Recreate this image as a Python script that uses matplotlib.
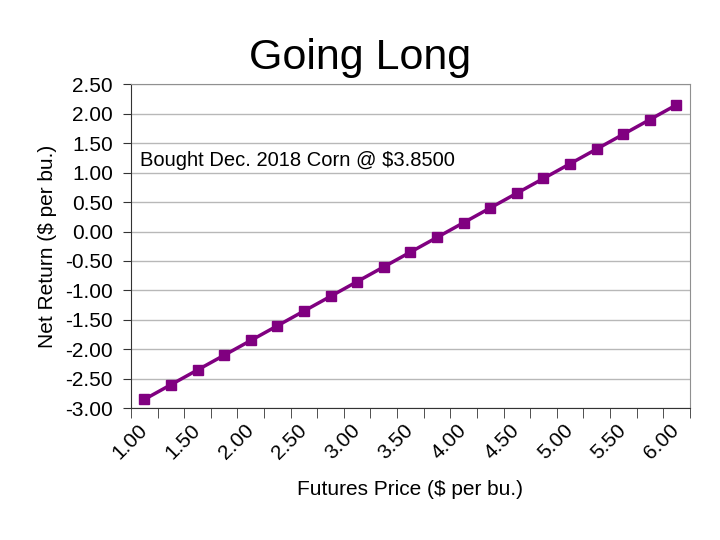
import matplotlib.pyplot as plt
import numpy as np

plt.rcParams['font.family'] = ['Liberation Sans', 'DejaVu Sans']

prices = ['1.00', '1.25', '1.50', '1.75', '2.00', '2.25', '2.50', '2.75', '3.00', '3.25',
          '3.50', '3.75', '4.00', '4.25', '4.50', '4.75', '5.00', '5.25', '5.50', '5.75', '6.00']
net_return = [-2.85, -2.60, -2.35, -2.10, -1.85, -1.60, -1.35, -1.10, -0.85, -0.60,
              -0.35, -0.10, 0.15, 0.40, 0.65, 0.90, 1.15, 1.40, 1.65, 1.90, 2.15]
y_ticks = [-3.0, -2.5, -2.0, -1.5, -1.0, -0.5, 0.0, 0.5, 1.0, 1.5, 2.0, 2.5]

fig = plt.figure(figsize=(7.2, 5.4), dpi=100)
ax = fig.add_axes([0.182, 0.244, 0.776, 0.600])

x = np.arange(len(prices))
ax.plot(x, net_return, color='#800080', lw=2.5, marker='s', ms=7, zorder=3)

ax.set_xlim(-0.5, len(prices) - 0.5)
ax.set_ylim(-3.0, 2.5)
ax.set_yticks(y_ticks)
ax.set_yticklabels([f'{v:.2f}' for v in y_ticks], fontsize=15)
ax.grid(axis='y', color='#b8b8b8', lw=1)
ax.set_axisbelow(True)

# labels on every other category, tick marks between categories
ax.set_xticks(x[::2])
ax.set_xticklabels(prices[::2], fontsize=15, rotation=45, ha='right', va='center',
                   rotation_mode='anchor')
ax.tick_params(axis='x', which='major', length=0, pad=14)
ax.set_xticks(np.arange(len(prices) + 1) - 0.5, minor=True)
ax.tick_params(axis='x', which='minor', length=7, color='#333333')
ax.tick_params(axis='y', length=6, color='#333333', pad=7)

for s in ['top', 'right']:
    ax.spines[s].set_color('#909090')
for s in ['left', 'bottom']:
    ax.spines[s].set_color('#333333')

ax.set_ylabel('Net Return ($ per bu.)', fontsize=15, labelpad=6)
ax.set_xlabel('Futures Price ($ per bu.)', fontsize=15, labelpad=12)
ax.text(0.016, 0.765, 'Bought Dec. 2018 Corn @ $3.8500', transform=ax.transAxes,
        fontsize=14.5, va='center')

fig.text(0.5, 0.893, 'Going Long', fontsize=31, ha='center', va='center')

fig.savefig('out.png', dpi=100)
